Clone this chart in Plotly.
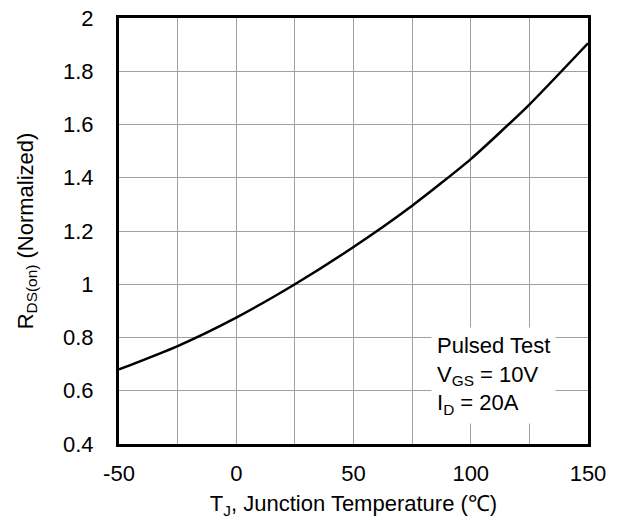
import plotly.graph_objects as go

temps = [-50, -25, 0, 25, 50, 75, 100, 125, 150]
rds_norm = [0.68, 0.768, 0.875, 1.0, 1.14, 1.295, 1.47, 1.675, 1.905]

x_ticks = [-50, 0, 50, 100, 150]
x_tick_text = ["-50", "0", "50", "100", "150"]
y_ticks = [0.4, 0.6, 0.8, 1.0, 1.2, 1.4, 1.6, 1.8, 2.0]
y_tick_text = ["0.4", "0.6", "0.8", "1", "1.2", "1.4", "1.6", "1.8", "2"]
x_grid = [-25, 0, 25, 50, 75, 100, 125]

font = "Liberation Sans, Arial, sans-serif"
fs = 22

fig = go.Figure()
fig.add_trace(go.Scatter(x=temps, y=rds_norm, mode="lines",
                         line=dict(color="black", width=2.5, shape="spline", smoothing=0.6),
                         showlegend=False, hoverinfo="skip"))

fig.update_layout(
    width=619, height=521,
    margin=dict(l=119, r=31, t=18, b=77),
    paper_bgcolor="white", plot_bgcolor="white",
    font=dict(family=font, size=fs, color="black"),
    xaxis=dict(range=[-50, 150], tickvals=x_ticks, ticktext=x_tick_text,
               showgrid=False, zeroline=False, automargin=False,
               showline=True, linewidth=3, linecolor="black", mirror=True,
               ticks="", ticklabelstandoff=8, ticklabeloverflow="allow",
               minor=dict(tickvals=x_grid, showgrid=True, gridcolor="#a0a0a0",
                          gridwidth=1, ticks=""),
               title=dict(text="T<sub>J</sub>, Junction Temperature (℃)", standoff=11,
                          font=dict(size=fs))),
    yaxis=dict(range=[0.4, 2.0], tickvals=y_ticks, ticktext=y_tick_text,
               showgrid=True, gridcolor="#a0a0a0", gridwidth=1, zeroline=False,
               automargin=False,
               showline=True, linewidth=3, linecolor="black", mirror=True,
               ticks="", ticklabelstandoff=18, ticklabeloverflow="allow",
               title=dict(text="R<sub>DS(on)</sub> (Normalized)", standoff=24,
                          font=dict(size=fs))),
)

fig.add_annotation(
    x=0.665, y=0.275, xref="paper", yref="paper", xanchor="left", yanchor="top",
    text="Pulsed Test<br>V<sub>GS</sub> = 10V<br>I<sub>D</sub> = 20A",
    showarrow=False, align="left", bgcolor="white", borderpad=5,
    font=dict(size=fs, family=font, color="black"),
)

fig.write_html("out.html",
               config={"displayModeBar": False, "staticPlot": True},
               post_script="document.body.style.margin='0';")
